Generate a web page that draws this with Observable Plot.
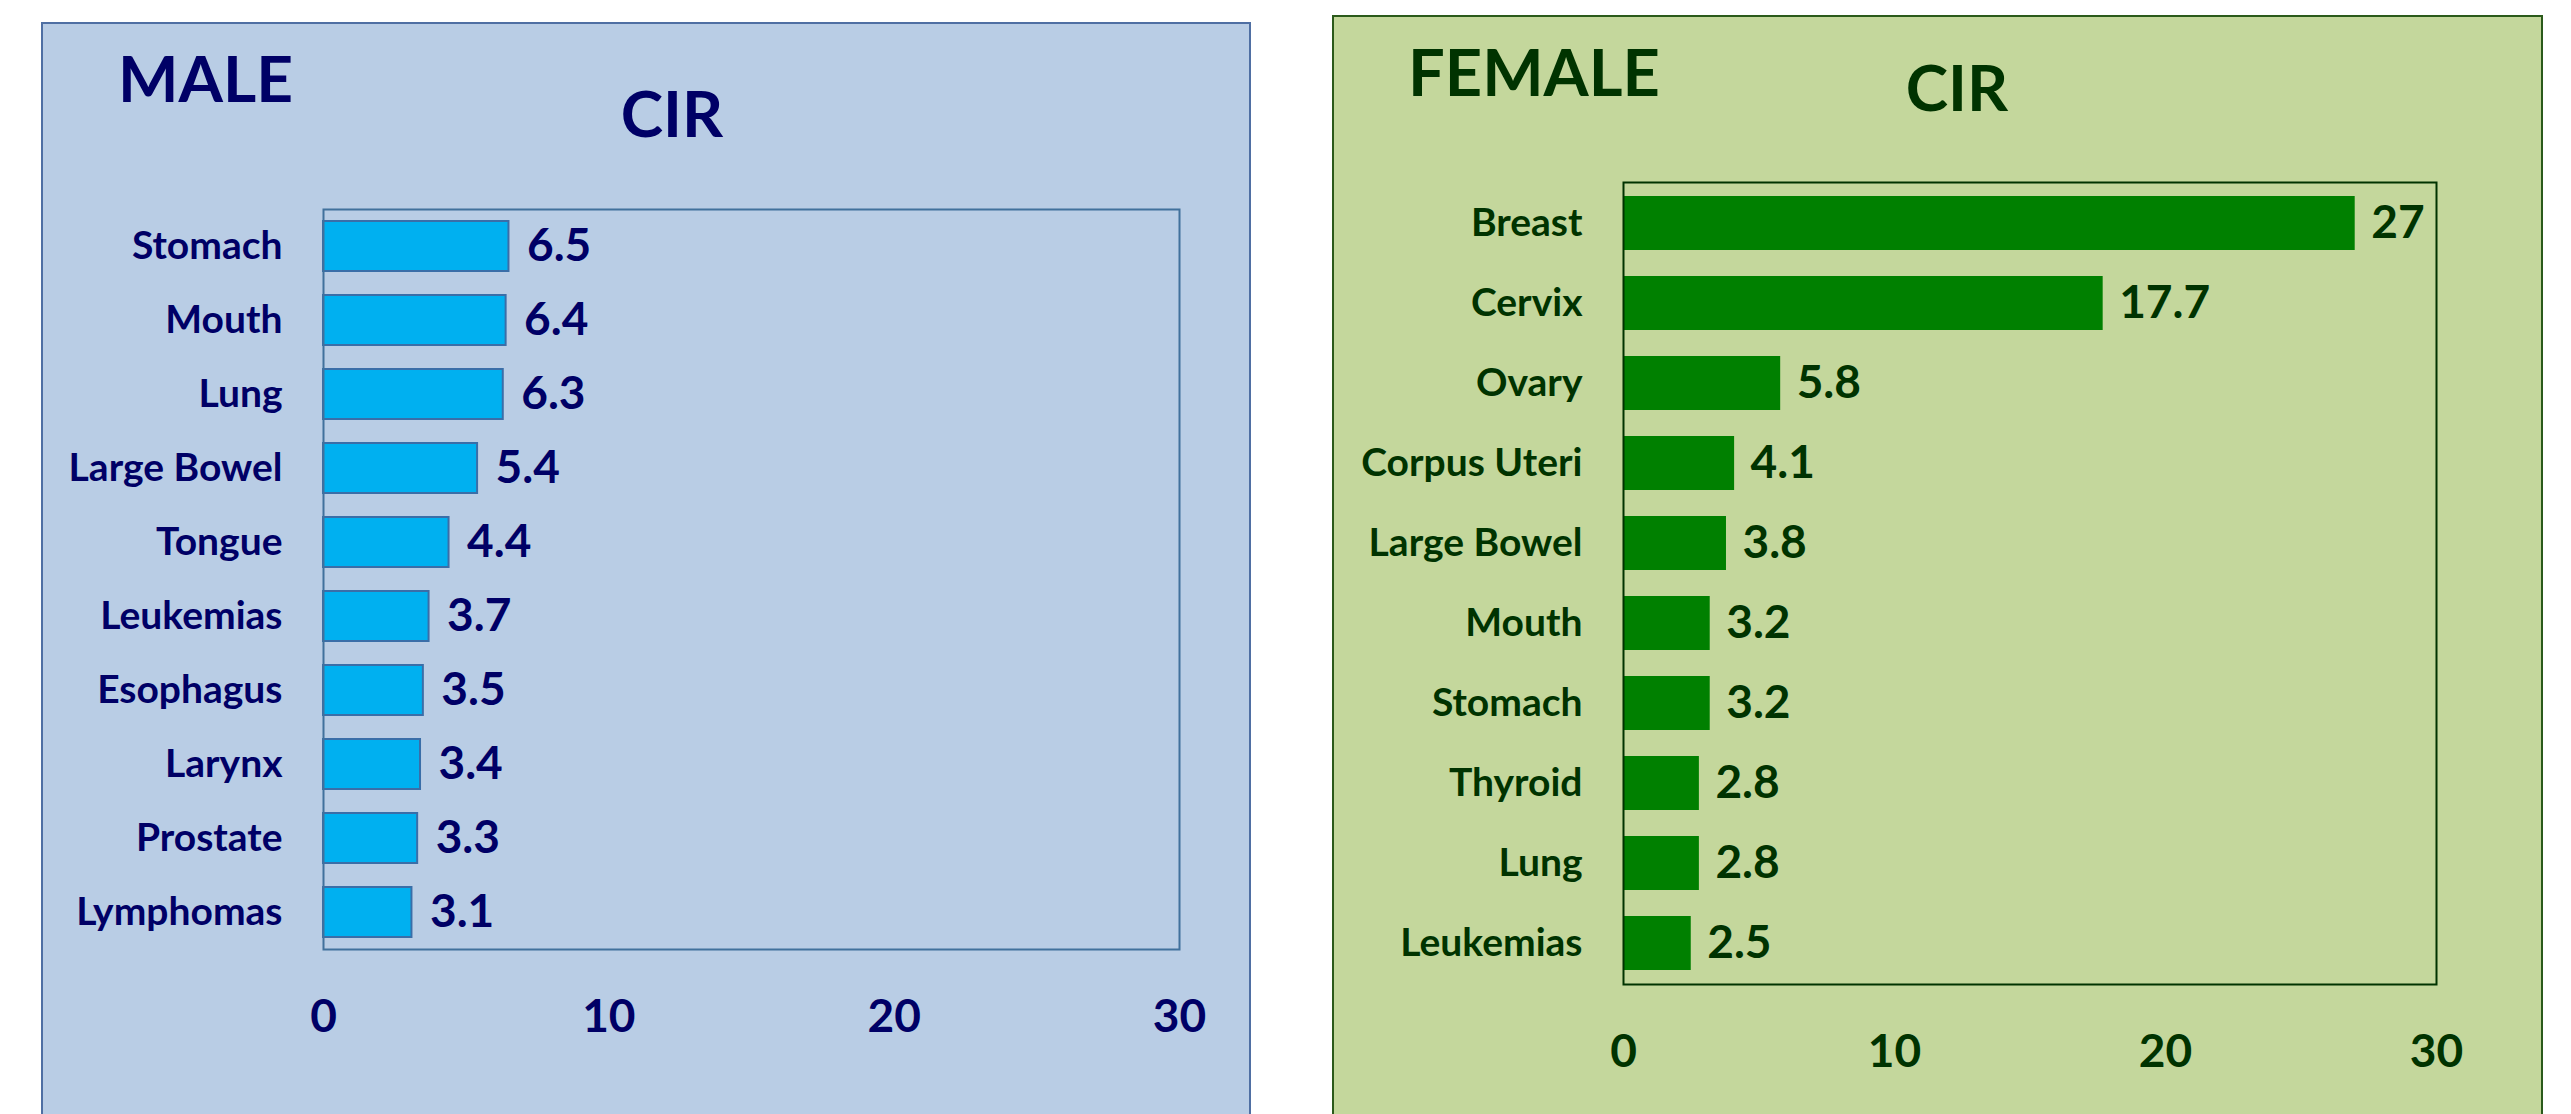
<!DOCTYPE html>
<html>
<head>
<meta charset="utf-8">
<script src="https://cdn.jsdelivr.net/npm/d3@7"></script>
<script src="https://cdn.jsdelivr.net/npm/@observablehq/plot@0.6"></script>
<style>
  html, body { margin: 0; padding: 0; background: #ffffff; overflow: hidden; }
  body { width: 2571px; height: 1114px; position: relative; font-family: Lato, "Open Sans", sans-serif; }
  .panel { position: absolute; box-sizing: border-box; }
  .title { position: absolute; font-weight: bold; line-height: 1; white-space: nowrap; }
  .plotwrap { position: absolute; }
  .plotwrap svg { overflow: visible; display: block; }
</style>
</head>
<body>
<div class="panel" style="left:41px;top:22px;width:1210px;height:1120px;background:#B9CDE5;border:2px solid #4F6FA3;"></div>
<div class="panel" style="left:1332px;top:15px;width:1211px;height:1130px;background:#C4D79C;border:2px solid #2B5A1B;"></div>

<div class="title" style="left:118px;top:46px;font-size:64px;color:#000066;">MALE</div>
<div class="title" style="left:472px;top:81px;width:400px;text-align:center;font-size:64px;color:#000066;">CIR</div>
<div class="title" style="left:1408px;top:39px;font-size:65px;color:#003300;">FEMALE</div>
<div class="title" style="left:1757px;top:55px;width:400px;text-align:center;font-size:64px;color:#003300;">CIR</div>

<div id="male" class="plotwrap" style="left:41px;top:22px;"></div>
<div id="female" class="plotwrap" style="left:1332px;top:15px;"></div>

<script>
const maleCategories = ["Stomach", "Mouth", "Lung", "Large Bowel", "Tongue", "Leukemias", "Esophagus", "Larynx", "Prostate", "Lymphomas"];
const maleValues = [6.5, 6.4, 6.3, 5.4, 4.4, 3.7, 3.5, 3.4, 3.3, 3.1];

const femaleCategories = ["Breast", "Cervix", "Ovary", "Corpus Uteri", "Large Bowel", "Mouth", "Stomach", "Thyroid", "Lung", "Leukemias"];
const femaleValues = [27, 17.7, 5.8, 4.1, 3.8, 3.2, 3.2, 2.8, 2.8, 2.5];

const xTicks = [0, 10, 20, 30];
const xDomain = [0, 30];

function panel(cfg) {
  const data = cfg.cats.map((c, i) => ({cat: c, value: cfg.vals[i]}));
  return Plot.plot({
    width: cfg.width,
    height: cfg.height,
    marginLeft: cfg.ml,
    marginRight: cfg.mr,
    marginTop: cfg.mt,
    marginBottom: cfg.mb,
    style: {background: "transparent", fontFamily: "Lato, 'Open Sans', sans-serif", fontWeight: "bold", color: cfg.textColor, overflow: "visible"},
    x: {domain: xDomain, ticks: xTicks, label: null},
    y: {domain: cfg.cats, paddingInner: 0.32, paddingOuter: 0.16, label: null},
    marks: [
      Plot.barX(data, {x: "value", y: "cat", fill: cfg.barFill, stroke: cfg.barStroke, strokeWidth: cfg.barStrokeWidth}),
      Plot.frame({stroke: cfg.frameStroke, strokeWidth: 2}),
      Plot.text(data, {x: "value", y: "cat", text: d => String(d.value), textAnchor: "start", dx: cfg.dx, fontSize: 46, fontWeight: "bold", fill: cfg.textColor}),
      Plot.axisY({tickSize: 0, tickPadding: 41, fontSize: 39, fontWeight: "bold", label: null}),
      Plot.axisX({ticks: xTicks, tickFormat: d => String(d), tickSize: 0, tickPadding: 50, fontSize: 46, fontWeight: "bold", label: null})
    ]
  });
}

document.getElementById("male").appendChild(panel({
  cats: maleCategories, vals: maleValues,
  width: 1209, height: 1092, ml: 282, mr: 71, mt: 187, mb: 165,
  barFill: "#00B0F0", barStroke: "#3A6EA8", barStrokeWidth: 2,
  frameStroke: "#41719C", textColor: "#000066", dx: 18
}));

document.getElementById("female").appendChild(panel({
  cats: femaleCategories, vals: femaleValues,
  width: 1210, height: 1099, ml: 291, mr: 106, mt: 167, mb: 130,
  barFill: "#008000", barStroke: "none", barStrokeWidth: 0,
  frameStroke: "#003300", textColor: "#003300", dx: 16
}));
</script>
</body>
</html>
